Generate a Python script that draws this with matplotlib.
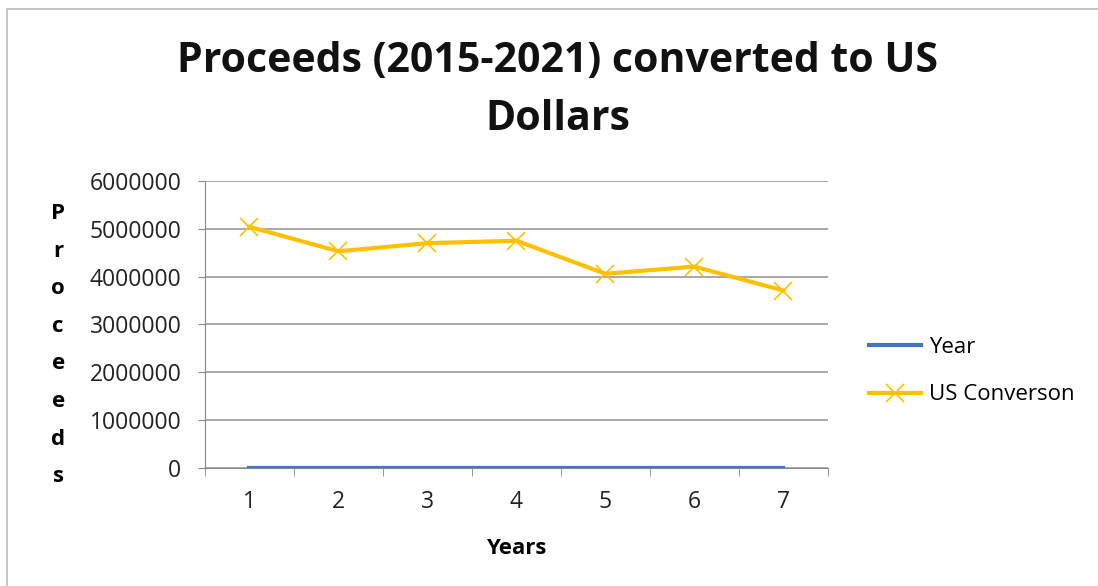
import matplotlib.pyplot as plt
from matplotlib.patches import Rectangle

plt.rcParams['font.family'] = ['Open Sans', 'DejaVu Sans']

years = [1, 2, 3, 4, 5, 6, 7]
year_values = [2015, 2016, 2017, 2018, 2019, 2020, 2021]
us_conversion = [5040000, 4530000, 4700000, 4750000, 4060000, 4210000, 3710000]
yticks = [0, 1000000, 2000000, 3000000, 4000000, 5000000, 6000000]

fig = plt.figure(figsize=(10.98, 5.86), dpi=100)
ax = fig.add_axes([0.1867, 0.2014, 0.5673, 0.4898])

ax.plot(years, year_values, color='#4472C4', lw=3, label='Year')
ax.plot(years, us_conversion, color='#FFC000', lw=3, marker='x', ms=13,
        mew=1.2, label='US Converson')

ax.set_xlim(0.5, 7.5)
ax.set_ylim(0, 6000000)
ax.set_yticks(yticks)
ax.set_yticklabels([str(v) for v in yticks])
ax.set_xticks(years)
ax.set_xticks([x + 0.5 for x in range(0, 8)], minor=True)
ax.tick_params(axis='x', which='major', length=0, pad=16, labelsize=16.5, colors='#222222')
ax.tick_params(axis='x', which='minor', length=6, color='#888888')
ax.tick_params(axis='y', length=5, color='#888888', labelsize=16.5, labelcolor='#222222', pad=12)
ax.grid(axis='y', color='#999999', lw=1.2)
ax.set_axisbelow(True)
for s in ['top', 'right']:
    ax.spines[s].set_visible(False)
ax.spines['left'].set_color('#888888')
ax.spines['bottom'].set_color('#888888')

ax.set_xlabel('Years', fontsize=16, fontweight='bold', labelpad=17)
fig.text(0.053, 0.411, '\n'.join('Proceeds'), fontsize=16, fontweight='bold',
         ha='center', va='center', linespacing=2.04)

fig.text(0.508, 0.846, 'Proceeds (2015-2021) converted to US\nDollars', fontsize=29.5,
         fontweight='bold', ha='center', va='center', linespacing=1.55, color='#111111')

ax.legend(loc='center left', bbox_to_anchor=(1.034, 0.338), frameon=False, fontsize=16,
          handlelength=2.35, labelspacing=1.2, handletextpad=0.35)

fig.patches.append(Rectangle((0.0065, -0.01), 1.1, 0.995, transform=fig.transFigure,
                             fill=False, ec='#BBBBBB', lw=1.2))

fig.savefig('out.png', dpi=100)
